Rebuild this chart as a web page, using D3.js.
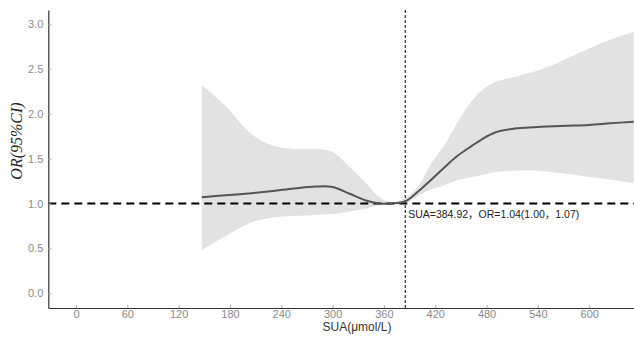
<!DOCTYPE html>
<html>
<head>
<meta charset="utf-8">
<script src="https://cdn.jsdelivr.net/npm/d3@7"></script>
<style>
  body { margin: 0; background: #fff; }
  svg { display: block; }
</style>
</head>
<body>
<div id="chart"></div>
<script>
// SUA values (umol/L) and the fitted OR with its 95% CI
const sua   = [147, 175, 205, 230, 255, 280, 300, 320, 340, 355, 370, 385, 400, 415, 430, 445, 460, 475, 490, 510, 530, 550, 575, 600, 625, 652];
const orFit = [1.069, 1.091, 1.115, 1.139, 1.167, 1.189, 1.184, 1.108, 1.030, 0.999, 1.000, 1.025, 1.133, 1.262, 1.395, 1.523, 1.624, 1.718, 1.791, 1.830, 1.846, 1.857, 1.865, 1.874, 1.893, 1.911];
const orUp  = [2.320, 2.086, 1.774, 1.646, 1.607, 1.607, 1.573, 1.406, 1.217, 1.067, 1.015, 1.060, 1.190, 1.440, 1.640, 1.885, 2.108, 2.264, 2.353, 2.403, 2.453, 2.514, 2.620, 2.726, 2.826, 2.913];
const orLo  = [0.482, 0.638, 0.788, 0.844, 0.861, 0.872, 0.883, 0.911, 0.944, 0.983, 0.990, 1.000, 1.083, 1.156, 1.200, 1.256, 1.290, 1.317, 1.350, 1.362, 1.371, 1.356, 1.328, 1.295, 1.267, 1.225];

const xTicks = [0, 60, 120, 180, 240, 300, 360, 420, 480, 540, 600];
const yTicks = [0, 0.5, 1.0, 1.5, 2.0, 2.5, 3.0];
const cutoff = 384.92;
const refOR = 1;
const note = "SUA=384.92，OR=1.04(1.00，1.07)";

const svgWidth = 634, svgHeight = 340;
const data = sua.map((d, i) => ({ x: d, y: orFit[i], lo: orLo[i], hi: orUp[i] }));

const x = d3.scaleLinear().domain([-32.4, 652.4]).range([48.3, 634]);
const y = d3.scaleLinear().domain([-0.164, 3.155]).range([308, 10]);

const svg = d3.select("#chart").append("svg")
    .attr("width", svgWidth)
    .attr("height", svgHeight);

const smooth = d3.curveCatmullRom.alpha(0.5);

// confidence band
svg.append("path")
    .datum(data)
    .attr("fill", "#e2e2e2")
    .attr("d", d3.area()
        .x(d => x(d.x))
        .y0(d => y(d.lo))
        .y1(d => y(d.hi))
        .curve(smooth));

// reference line OR = 1
svg.append("line")
    .attr("x1", x.range()[0]).attr("x2", x.range()[1])
    .attr("y1", y(refOR)).attr("y2", y(refOR))
    .attr("stroke", "#000")
    .attr("stroke-width", 2)
    .attr("stroke-dasharray", "8,5");

// cutoff line
svg.append("line")
    .attr("x1", x(cutoff)).attr("x2", x(cutoff))
    .attr("y1", y.range()[1]).attr("y2", y.range()[0])
    .attr("stroke", "#000")
    .attr("stroke-width", 1)
    .attr("stroke-dasharray", "3,2");

// fitted curve
svg.append("path")
    .datum(data)
    .attr("fill", "none")
    .attr("stroke", "#555")
    .attr("stroke-width", 2)
    .attr("d", d3.line()
        .x(d => x(d.x))
        .y(d => y(d.y))
        .curve(smooth));

// axes
const xAxis = svg.append("g")
    .attr("transform", `translate(0,${y.range()[0]})`)
    .call(d3.axisBottom(x).tickValues(xTicks).tickSize(-3).tickPadding(2).tickSizeOuter(0));

const yAxis = svg.append("g")
    .attr("transform", `translate(${x.range()[0]},0)`)
    .call(d3.axisLeft(y).tickValues(yTicks).tickFormat(d3.format(".1f")).tickSize(-3).tickPadding(5).tickSizeOuter(0));

[xAxis, yAxis].forEach(g => {
    g.select(".domain").attr("stroke", "#333").attr("stroke-width", 1.2);
    g.selectAll(".tick line").attr("stroke", "#aaa");
    g.selectAll(".tick text")
        .attr("fill", "#8a8a8a")
        .style("font-family", "Arial, 'Liberation Sans', sans-serif")
        .style("font-size", "11px");
});

// axis titles
svg.append("text")
    .attr("x", 357)
    .attr("y", 331)
    .attr("text-anchor", "middle")
    .attr("fill", "#333")
    .style("font-family", "Arial, 'Liberation Sans', sans-serif")
    .style("font-size", "12px")
    .text("SUA(μmol/L)");

svg.append("text")
    .attr("transform", "translate(22,141) rotate(-90)")
    .attr("text-anchor", "middle")
    .attr("fill", "#222")
    .style("font-family", "'Times New Roman', 'Liberation Serif', serif")
    .style("font-style", "italic")
    .style("font-size", "16px")
    .text("OR(95%CI)");

// annotation
svg.append("text")
    .attr("x", x(cutoff) + 3)
    .attr("y", 218)
    .attr("fill", "#222")
    .style("font-family", "Arial, 'Liberation Sans', 'Noto Sans CJK SC', sans-serif")
    .style("font-size", "10.5px")
    .text(note);
</script>
</body>
</html>
